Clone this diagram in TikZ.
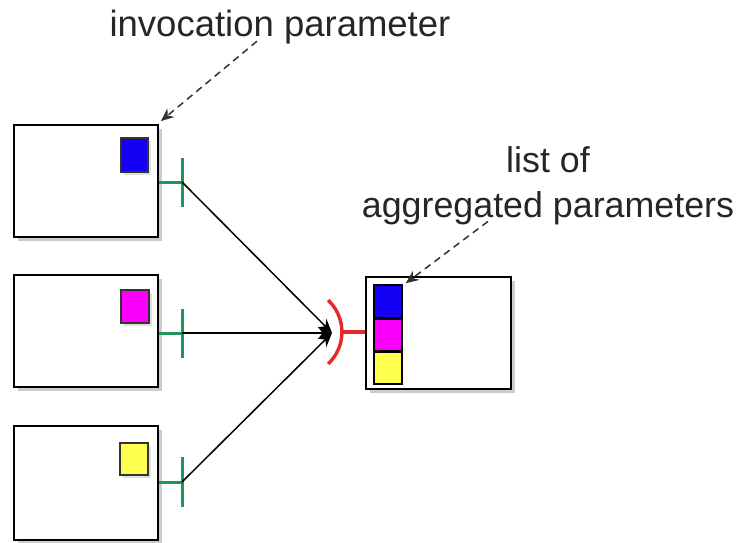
\documentclass[tikz,border=0pt]{standalone}
\usepackage{fontspec}
\setmainfont{Liberation Sans}
\usetikzlibrary{arrows.meta,shadows}
\definecolor{portgreen}{RGB}{30,150,90}
\definecolor{sockred}{RGB}{230,40,40}
\definecolor{pblue}{RGB}{20,0,245}
\definecolor{pmag}{RGB}{250,0,250}
\definecolor{pyel}{RGB}{255,255,80}
\tikzset{
  comp/.style={draw=black, line width=1.8pt, fill=white, minimum width=144pt, minimum height=112pt, inner sep=0pt,
    drop shadow={shadow xshift=4pt, shadow yshift=-4pt, opacity=0.4}},
  param/.style={draw=black!80, line width=1.4pt, minimum width=28pt, minimum height=33pt, inner sep=0pt,
    drop shadow={shadow xshift=3pt, shadow yshift=-3pt, opacity=0.25}},
  agg/.style={draw=black, line width=1.4pt, minimum width=28pt, minimum height=32pt, inner sep=0pt},
  portline/.style={draw=portgreen, line width=3pt},
  conn/.style={draw=black, line width=1.5pt, -{Stealth[length=14pt,width=12pt]}},
  note/.style={draw=black!80, line width=1.5pt, dash pattern=on 7pt off 5pt, -{Stealth[length=13pt,width=11pt]}},
  lbl/.style={font=\fontsize{36.5}{45}\selectfont, text=black!85, align=center, inner sep=0pt}
}
\begin{document}
\begin{tikzpicture}[x=1pt,y=-1pt]
\useasboundingbox (0,0) rectangle (740,543);
% components
\node[comp] (b1) at (86,181) {};
\node[comp] (b2) at (86,331) {};
\node[comp, minimum height=114pt] (b3) at (86,483) {};
\node[comp, minimum width=145pt] (ag) at (438.5,333) {};
% parameter squares
\node[param, fill=pblue, minimum width=27pt, minimum height=34pt] (s1) at (134.5,155) {};
\node[param, fill=pmag] (s2) at (135,306.5) {};
\node[param, fill=pyel, minimum height=32pt] (s3) at (134,459) {};
% aggregated list
\node[agg, fill=pblue, minimum height=33pt] (a1) at (388,301.5) {};
\node[agg, fill=pmag, minimum height=31pt, anchor=north] (a2) at (a1.south) {};
\node[agg, fill=pyel, anchor=north] (a3) at (a2.south) {};
% green ports
\coordinate (p1) at (182,182);
\coordinate (p2) at (182,333);
\coordinate (p3) at (182,482);
\draw[portline] (b1.east |- p1) -- (p1);
\draw[portline] ([yshift=-24.5pt]p1) -- ([yshift=24.5pt]p1);
\draw[portline] (b2.east |- p2) -- (p2);
\draw[portline] ([yshift=-24.5pt]p2) -- ([yshift=24.5pt]p2);
\draw[portline] (b3.east |- p3) -- (p3);
\draw[portline] ([yshift=-25pt]p3) -- ([yshift=25pt]p3);
% red socket
\coordinate (sk) at (342,332);
\coordinate (sktop) at (328.1,300.1);
\coordinate (tip) at (332,333);
\draw[draw=sockred, line width=3.2pt] (ag.west |- sk) -- (sk);
\draw[draw=sockred, line width=3.4pt] (sktop) arc[start angle=47, end angle=-47, radius=43.6pt];
% connectors
\draw[conn] (p1) -- (tip);
\draw[conn] (p2) -- (tip);
\draw[conn] (p3) -- (tip);
% labels
\node[lbl] (lab1) at (280,27) {invocation parameter};
\node[lbl, font=\fontsize{35.8}{45}\selectfont] (lab2) at (548,186) {list of\\aggregated parameters};
\draw[note] ([xshift=-23pt,yshift=3pt]lab1.south) -- ([xshift=2pt,yshift=3pt]b1.north east);
\draw[note] ([xshift=-60pt,yshift=4pt]lab2.south) -- ([xshift=3pt,yshift=1pt]a1.north east);
\end{tikzpicture}
\end{document}
